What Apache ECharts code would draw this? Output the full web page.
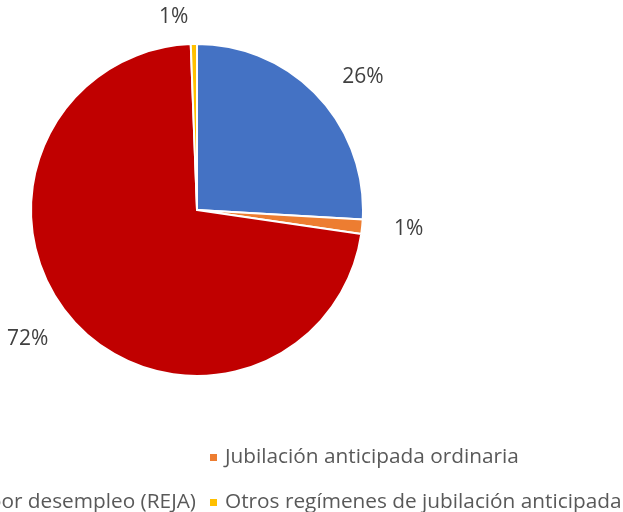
<!DOCTYPE html>
<html>
<head>
<meta charset="utf-8">
<script src="https://cdn.jsdelivr.net/npm/echarts@6/dist/echarts.min.js"></script>
<style>
  html, body { margin: 0; padding: 0; background: #fff; }
  #chart { width: 623px; height: 512px; }
</style>
</head>
<body>
<div id="chart"></div>
<script>
  // nombres de las categorías (la primera no se ve en la leyenda recortada)
  var categories = ['Jubilación ordinaria', 'Jubilación anticipada ordinaria', 'Jubilación anticipada por desempleo (REJA)', 'Otros regímenes de jubilación anticipada'];
  // porcentajes estimados del gráfico
  var values = [25.9, 1.4, 72.1, 0.6];
  var colors = ['#4472C4', '#ED7D31', '#C00000', '#FFC000'];

  var chart = echarts.init(document.getElementById('chart'));

  var legendText = { color: '#595959', fontSize: 20.8, fontFamily: 'Open Sans', padding: [0, 0, 0, 2] };

  chart.setOption({
    animation: false,
    color: colors,
    legend: [
      {
        data: [categories[1]],
        left: 203, top: 442,
        icon: 'rect', itemWidth: 9, itemHeight: 9,
        textStyle: legendText
      },
      {
        data: [categories[2]],
        right: 422, top: 487,
        icon: 'rect', itemWidth: 9, itemHeight: 9,
        textStyle: legendText
      },
      {
        data: [categories[3]],
        left: 203, top: 487,
        icon: 'rect', itemWidth: 9, itemHeight: 9,
        textStyle: legendText
      }
    ],
    series: [
      {
        name: 'Jubilaciones',
        type: 'pie',
        center: [197, 210],
        radius: 166,
        startAngle: 90,
        clockwise: true,
        itemStyle: { borderColor: '#fff', borderWidth: 2 },
        label: {
          show: true,
          position: 'outside',
          overflow: 'none',
          color: '#404040',
          fontSize: 21,
          fontFamily: 'Open Sans',
          formatter: function (p) { return Math.max(1, Math.round(p.value)) + '%'; }
        },
        labelLine: { show: false, length: 27, length2: 0 },
        data: categories.map(function (c, i) {
          return { name: c, value: values[i] };
        })
      }
    ]
  });
</script>
</body>
</html>
